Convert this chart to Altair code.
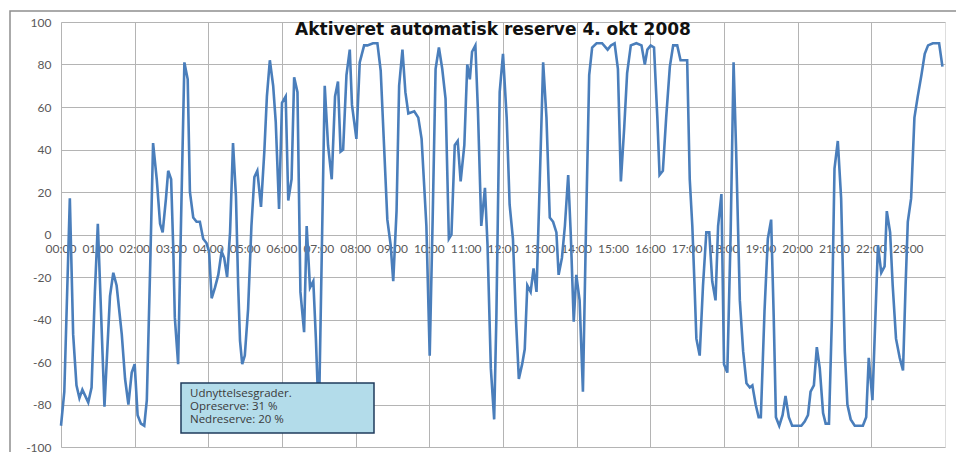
import altair as alt
import pandas as pd

# Time of day in decimal hours and activated reserve (%)
hours = [
    0.00, 0.09, 0.24, 0.33, 0.42, 0.50, 0.58, 0.74, 0.83, 0.92,
    1.00, 1.18, 1.33, 1.42, 1.51, 1.65, 1.74, 1.83, 1.92, 2.00,
    2.08, 2.17, 2.26, 2.33, 2.42, 2.50, 2.60, 2.69, 2.76, 2.85,
    2.91, 2.99, 3.05, 3.09, 3.18, 3.26, 3.35, 3.44, 3.50, 3.59,
    3.68, 3.77, 3.86, 3.95, 4.02, 4.09, 4.18, 4.27, 4.36, 4.43,
    4.51, 4.59, 4.67, 4.75, 4.81, 4.86, 4.92, 4.99, 5.08, 5.17,
    5.25, 5.33, 5.43, 5.52, 5.59, 5.67, 5.76, 5.83, 5.92, 6.00,
    6.10, 6.17, 6.26, 6.33, 6.42, 6.50, 6.60, 6.67, 6.76, 6.85,
    6.92, 7.00, 7.16, 7.25, 7.35, 7.44, 7.52, 7.59, 7.66, 7.75,
    7.84, 7.90, 8.02, 8.11, 8.23, 8.32, 8.47, 8.59, 8.68, 8.77,
    8.86, 8.95, 9.02, 9.11, 9.18, 9.27, 9.35, 9.43, 9.59, 9.70,
    9.79, 9.86, 9.92, 10.01, 10.09, 10.17, 10.26, 10.35, 10.44, 10.53,
    10.60, 10.69, 10.77, 10.85, 10.95, 11.03, 11.10, 11.16, 11.25, 11.32,
    11.41, 11.51, 11.58, 11.67, 11.76, 11.82, 11.91, 12.00, 12.10, 12.18,
    12.27, 12.35, 12.43, 12.52, 12.59, 12.66, 12.75, 12.83, 12.91, 13.00,
    13.09, 13.18, 13.27, 13.36, 13.45, 13.51, 13.60, 13.68, 13.77, 13.84,
    13.92, 13.99, 14.08, 14.17, 14.25, 14.34, 14.42, 14.54, 14.69, 14.84,
    14.93, 15.03, 15.12, 15.20, 15.29, 15.37, 15.47, 15.62, 15.76, 15.85,
    15.92, 16.01, 16.10, 16.19, 16.25, 16.34, 16.43, 16.53, 16.62, 16.73,
    16.82, 17.00, 17.07, 17.14, 17.20, 17.25, 17.34, 17.43, 17.52, 17.60,
    17.68, 17.77, 17.84, 17.93, 18.00, 18.09, 18.18, 18.26, 18.33, 18.43,
    18.52, 18.61, 18.70, 18.77, 18.86, 18.94, 19.00, 19.10, 19.19, 19.28,
    19.35, 19.41, 19.50, 19.59, 19.67, 19.76, 19.85, 20.10, 20.19, 20.28,
    20.35, 20.44, 20.52, 20.60, 20.69, 20.76, 20.85, 20.93, 21.00, 21.09,
    21.18, 21.28, 21.35, 21.44, 21.55, 21.77, 21.86, 21.93, 22.03, 22.11,
    22.18, 22.27, 22.36, 22.42, 22.51, 22.58, 22.67, 22.77, 22.86, 22.93,
    22.99, 23.08, 23.17, 23.26, 23.36, 23.45, 23.54, 23.67, 23.84, 23.93,
]
reserve = [
    -90, -74, 17, -47, -71, -77, -73, -79, -72, -27,
    5, -81, -29, -18, -24, -47, -68, -80, -65, -61,
    -85, -89, -90, -78, -16, 43, 26, 5, 1, 17,
    30, 26, -8, -39, -61, 7, 81, 73, 20, 8,
    6, 6, -2, -4, -8, -30, -25, -19, -8, -11,
    -20, 1, 43, 18, -24, -50, -61, -57, -35, 4,
    27, 30, 13, 39, 65, 82, 70, 53, 12, 62,
    65, 16, 26, 74, 67, -27, -46, 4, -25, -22,
    -49, -88, 70, 42, 26, 65, 72, 39, 40, 75,
    87, 61, 45, 81, 89, 89, 90, 90, 77, 42,
    7, -5, -22, 11, 70, 87, 67, 57, 58, 55,
    45, 23, 4, -57, 7, 78, 88, 78, 64, -2,
    0, 42, 44, 25, 42, 80, 73, 86, 89, 58,
    4, 22, -5, -63, -87, -39, 67, 85, 55, 14,
    -2, -39, -68, -61, -54, -24, -27, -16, -27, 26,
    81, 55, 8, 6, 1, -19, -11, 4, 28, 0,
    -41, -19, -31, -74, 0, 75, 88, 90, 90, 87,
    89, 90, 78, 25, 50, 76, 89, 90, 89, 80,
    87, 89, 88, 55, 28, 30, 55, 79, 89, 89,
    82, 82, 26, 4, -24, -49, -57, -24, 1, 1,
    -22, -31, 4, 19, -61, -65, 0, 81, 39, -31,
    -55, -70, -72, -71, -80, -86, -86, -36, -2, 7,
    -39, -86, -90, -85, -76, -86, -90, -90, -88, -85,
    -74, -71, -53, -63, -84, -89, -89, -39, 31, 44,
    17, -55, -80, -87, -90, -90, -86, -58, -78, -39,
    -5, -18, -15, 11, 1, -24, -49, -58, -64, -24,
    6, 17, 55, 65, 75, 85, 89, 90, 90, 79,
]

tick_hours = list(range(24))
tick_labels = ["%02d:00" % h for h in tick_hours]
y_ticks = list(range(-100, 101, 20))

title_text = "Aktiveret automatisk reserve 4. okt 2008"
legend_lines = ["Udnyttelsesgrader.", "Opreserve:  31 %", "Nedreserve: 20 %"]

df = pd.DataFrame({"hour": hours, "value": reserve})
ticks_df = pd.DataFrame({"hour": tick_hours, "label": tick_labels, "zero": [0] * len(tick_hours)})
one = pd.DataFrame({"a": [0]})
legend_df = pd.DataFrame({"txt": ["\n".join(legend_lines)]})

W, H = 884, 425
FONT = "Lato"

x_scale = alt.Scale(domain=[0, 24], nice=False, zero=False)
y_scale = alt.Scale(domain=[-100, 100], nice=False)

frame = alt.Chart(one).mark_rect(
    fillOpacity=0, stroke="#8f8f8f", strokeWidth=1.5
).encode(x=alt.value(-51), x2=alt.value(W + 40), y=alt.value(-11), y2=alt.value(H + 40))

line = alt.Chart(df).mark_line(color="#4a7ebb", strokeWidth=2.6, interpolate="linear").encode(
    x=alt.X("hour:Q", scale=x_scale,
            axis=alt.Axis(values=tick_hours, grid=True, gridColor="#b4b4b4", gridWidth=1,
                          labels=False, ticks=False, domain=False, title=None)),
    y=alt.Y("value:Q", scale=y_scale,
            axis=alt.Axis(values=y_ticks, grid=True, gridColor="#b4b4b4", gridWidth=1,
                          ticks=False, domain=False, title=None, labelFont=FONT,
                          labelFontSize=12, labelColor="#595959", labelPadding=10,
                          labelExpr="'' + datum.value")),
)

xlabels = alt.Chart(ticks_df).mark_text(
    font=FONT, fontSize=12, color="#595959", dy=14, align="center", baseline="middle"
).encode(x=alt.X("hour:Q", scale=x_scale), y=alt.Y("zero:Q", scale=y_scale), text="label:N")

box = alt.Chart(one).mark_rect(
    fill="#b3dcea", stroke="#1f3b5c", strokeWidth=1.5
).encode(x=alt.value(120), x2=alt.value(313), y=alt.value(361), y2=alt.value(411))

legend_text = alt.Chart(legend_df).mark_text(
    font="Open Sans", fontSize=11.5, color="#3a3a3a", align="left", baseline="top",
    lineBreak="\n", lineHeight=13
).encode(x=alt.value(129), y=alt.value(366), text="txt:N")

title = alt.Chart(one).mark_text(
    text=title_text, font="DejaVu Sans", fontSize=17, fontWeight="bold", color="#111111",
    align="center", baseline="middle"
).encode(x=alt.value(432), y=alt.value(8))

chart = alt.layer(frame, xlabels, line, box, legend_text, title).properties(
    width=W, height=H,
    autosize=alt.AutoSizeParams(type="none"),
    padding={"left": 53, "top": 14, "right": 11, "bottom": 5},
).configure_view(stroke="transparent").configure(background="white")

chart.save("out.html", embed_options={"renderer": "svg", "actions": False})
